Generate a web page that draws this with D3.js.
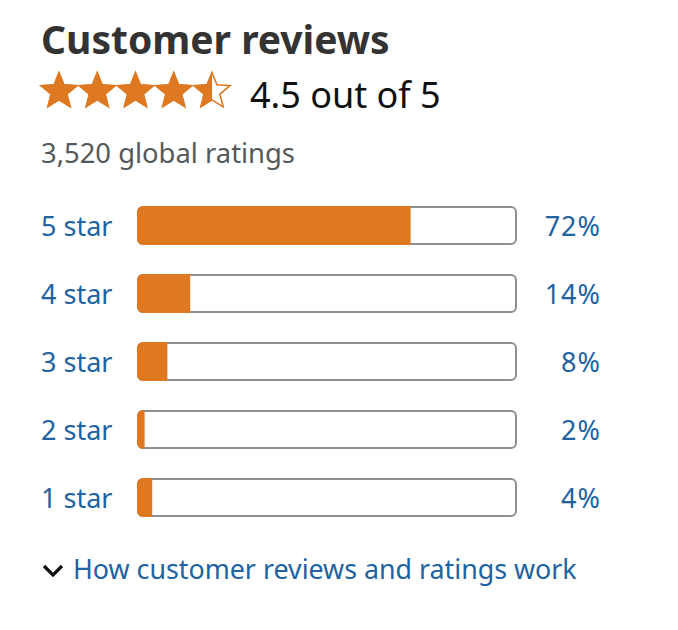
<!DOCTYPE html>
<html>
<head>
<meta charset="utf-8">
<script src="https://cdn.jsdelivr.net/npm/d3@7"></script>
<style>
  html, body { margin: 0; padding: 0; background: #fff; }
  svg { display: block; }
  text { font-family: "Noto Sans", "Open Sans", sans-serif; }
</style>
</head>
<body>
<svg id="chart" width="678" height="630"></svg>
<script>
// ---- data ----
const categories = ["5 star", "4 star", "3 star", "2 star", "1 star"];
const percentages = [72, 14, 8, 2, 4];
const averageRating = 4.5;
const maxRating = 5;
const totalRatings = 3520;
const titleText = "Customer reviews";
const footerText = "How customer reviews and ratings work";

// ---- colours ----
const orange = "#DE7921";
const linkBlue = "#2162A1";
const trackStroke = "#8D9090";

const svg = d3.select("#chart");

// Title
svg.append("text")
  .attr("x", 41).attr("y", 54)
  .attr("font-size", 39).attr("font-weight", 700)
  .attr("fill", "#333333")
  .text(titleText);

// Stars
const starIdx = d3.range(maxRating);
const starX = d3.scaleLinear().domain([0, maxRating - 1]).range([59, 212]);
const R = 19, rIn = R * 0.44, starCy = 91.5;
function starPath(cx, cy) {
  const pts = [];
  for (let k = 0; k < 10; k++) {
    const ang = -Math.PI / 2 + k * Math.PI / 5;
    const rr = k % 2 === 0 ? R : rIn;
    pts.push([cx + rr * Math.cos(ang), cy + rr * Math.sin(ang)]);
  }
  return d3.line()(pts) + "Z";
}
const defs = svg.append("defs");
starIdx.forEach(i => {
  const frac = Math.max(0, Math.min(1, averageRating - i));
  const cx = starX(i);
  defs.append("clipPath").attr("id", "sc" + i)
    .append("rect")
    .attr("x", cx - R - 2).attr("y", starCy - R - 2)
    .attr("width", (2 * R + 4) * frac).attr("height", 2 * R + 4);
});
const starG = svg.append("g");
starG.selectAll("path.outline").data(starIdx).join("path")
  .attr("class", "outline")
  .attr("d", i => starPath(starX(i), starCy))
  .attr("fill", "none")
  .attr("stroke", orange).attr("stroke-width", 1.6)
  .attr("stroke-linejoin", "miter");
starG.selectAll("path.fill").data(starIdx).join("path")
  .attr("class", "fill")
  .attr("d", i => starPath(starX(i), starCy))
  .attr("fill", orange)
  .attr("stroke", orange).attr("stroke-width", 1)
  .attr("clip-path", i => `url(#sc${i})`);

svg.append("text")
  .attr("x", 250).attr("y", 108)
  .attr("font-size", 36)
  .attr("fill", "#0F1111")
  .text(`${averageRating} out of ${maxRating}`);

svg.append("text")
  .attr("x", 41).attr("y", 163)
  .attr("font-size", 27.4)
  .attr("fill", "#565959")
  .text(`${d3.format(",")(totalRatings)} global ratings`);

// Bars
const x = d3.scaleLinear().domain([0, 100]).range([137, 517]);
const y = d3.scaleBand().domain(categories).range([206, 517]).paddingInner(29 / 68).paddingOuter(0);
const rows = svg.append("g").selectAll("g").data(categories).join("g");

rows.each(function (c, i) {
  const g = d3.select(this);
  const top = y(c), h = y.bandwidth();
  const cid = "bc" + i;
  defs.append("clipPath").attr("id", cid)
    .append("rect")
    .attr("x", x(0)).attr("y", top)
    .attr("width", x(100) - x(0)).attr("height", h)
    .attr("rx", 6).attr("ry", 6);
  g.append("rect")
    .attr("x", x(0) + 1).attr("y", top + 1)
    .attr("width", x(100) - x(0) - 2).attr("height", h - 2)
    .attr("rx", 5).attr("ry", 5)
    .attr("fill", "#fff")
    .attr("stroke", trackStroke).attr("stroke-width", 2);
  g.append("rect")
    .attr("x", x(0)).attr("y", top)
    .attr("width", x(percentages[i]) - x(0)).attr("height", h)
    .attr("fill", orange)
    .attr("clip-path", `url(#${cid})`);
  g.append("text")
    .attr("x", 41).attr("y", top + h / 2 + 10)
    .attr("font-size", 27)
    .attr("fill", linkBlue)
    .text(c);
  g.append("text")
    .attr("x", 601).attr("y", top + h / 2 + 10)
    .attr("text-anchor", "end")
    .attr("font-size", 27)
    .attr("letter-spacing", 1)
    .attr("fill", linkBlue)
    .text(percentages[i] + "%");
});

// Footer
svg.append("path")
  .attr("d", "M44,566 L53,575 L62,566")
  .attr("fill", "none").attr("stroke", "#0F1111")
  .attr("stroke-width", 3.2).attr("stroke-linecap", "butt").attr("stroke-linejoin", "miter");
svg.append("text")
  .attr("x", 73).attr("y", 579)
  .attr("font-size", 26.8)
  .attr("fill", linkBlue)
  .text(footerText);
</script>
</body>
</html>
